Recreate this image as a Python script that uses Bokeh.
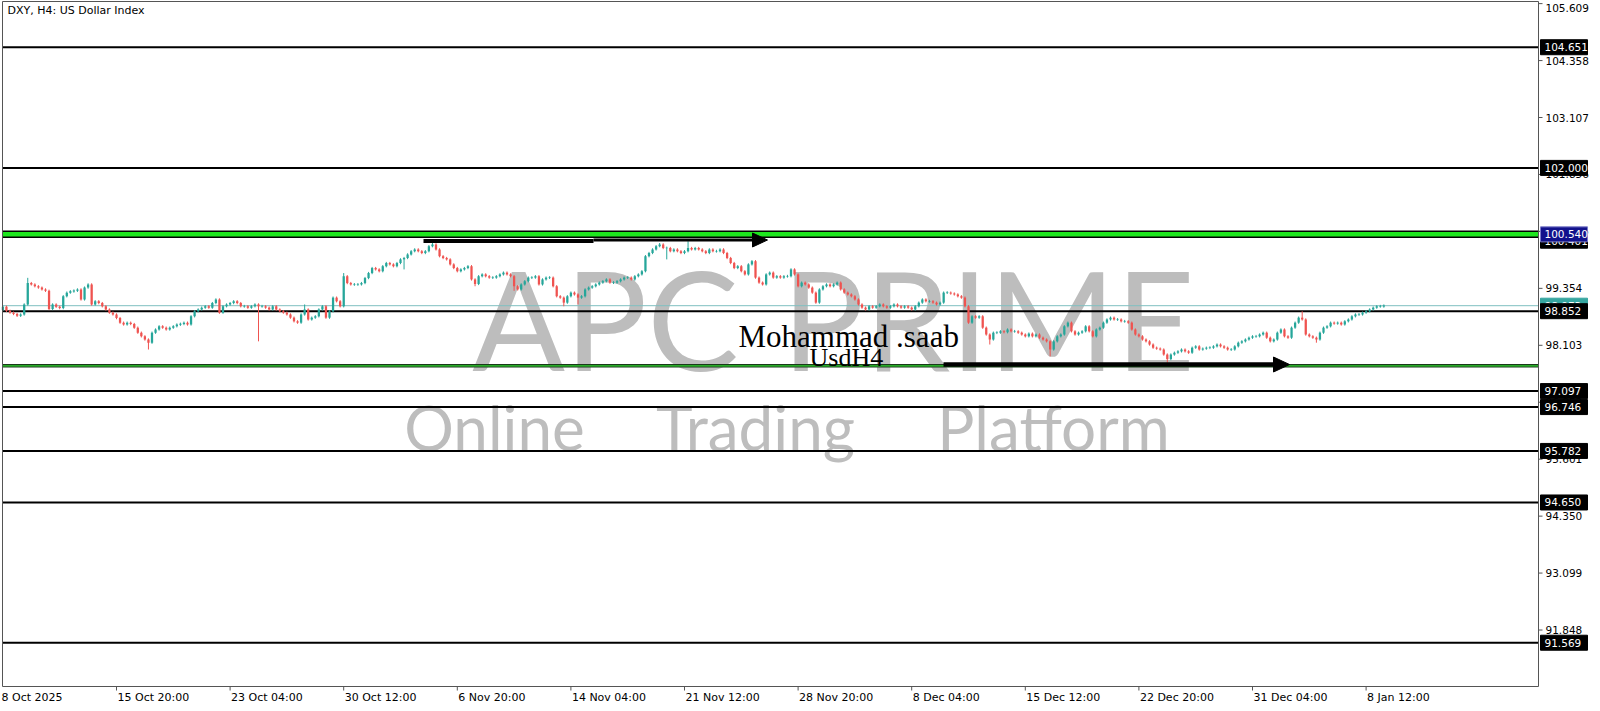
from bokeh.plotting import figure
from bokeh.models import Range1d
from bokeh.core.properties import value
from bokeh.embed import file_html
from bokeh.resources import INLINE

# ---------------- data ----------------
first_open = 98.88
closes = [
    98.95, 98.86, 98.82, 98.79, 98.75, 98.78, 99.00, 99.47, 99.44, 99.40,
    99.37, 99.33, 99.30, 98.90, 99.00, 98.95, 98.92, 99.18, 99.26, 99.29,
    99.30, 99.33, 99.11, 99.37, 99.44, 99.00, 99.07, 99.03, 98.96, 98.89,
    98.82, 98.78, 98.70, 98.60, 98.56, 98.60, 98.57, 98.49, 98.38, 98.30,
    98.23, 98.16, 98.38, 98.45, 98.52, 98.49, 98.45, 98.49, 98.52, 98.56,
    98.57, 98.60, 98.56, 98.74, 98.85, 98.89, 98.93, 98.96, 98.93, 99.03,
    99.11, 98.82, 98.96, 99.00, 99.03, 99.07, 99.03, 98.96, 98.96, 98.93,
    98.96, 99.00, 98.96, 98.96, 98.93, 98.89, 98.96, 98.89, 98.85, 98.82,
    98.78, 98.71, 98.63, 98.60, 98.78, 98.89, 98.67, 98.71, 98.74, 98.89,
    98.96, 98.71, 98.85, 99.15, 99.07, 98.96, 99.62, 99.47, 99.44, 99.44,
    99.44, 99.47, 99.58, 99.69, 99.80, 99.77, 99.73, 99.84, 99.91, 99.88,
    99.84, 99.91, 99.99, 100.02, 100.10, 100.17, 100.21, 100.17, 100.13, 100.17,
    100.28, 100.32, 100.21, 100.06, 100.02, 99.99, 99.88, 99.80, 99.73, 99.77,
    99.80, 99.84, 99.55, 99.45, 99.62, 99.66, 99.62, 99.59, 99.59, 99.62,
    99.66, 99.70, 99.66, 99.62, 99.40, 99.33, 99.44, 99.51, 99.59, 99.59,
    99.62, 99.44, 99.55, 99.59, 99.59, 99.40, 99.18, 99.15, 99.04, 99.18,
    99.26, 99.22, 99.15, 99.18, 99.33, 99.37, 99.40, 99.44, 99.48, 99.51,
    99.55, 99.48, 99.48, 99.51, 99.55, 99.59, 99.59, 99.55, 99.62, 99.66,
    99.73, 100.06, 100.13, 100.21, 100.28, 100.32, 100.24, 100.24, 100.17, 100.21,
    100.17, 100.13, 100.17, 100.24, 100.21, 100.24, 100.21, 100.17, 100.13, 100.21,
    100.17, 100.17, 100.21, 100.13, 100.02, 99.91, 99.80, 99.84, 99.73, 99.66,
    99.88, 99.95, 99.59, 99.48, 99.44, 99.66, 99.70, 99.59, 99.62, 99.59,
    99.62, 99.62, 99.77, 99.66, 99.40, 99.48, 99.44, 99.37, 99.26, 99.04,
    99.33, 99.40, 99.44, 99.40, 99.44, 99.48, 99.33, 99.26, 99.22, 99.18,
    99.11, 99.00, 98.93, 98.89, 98.96, 98.93, 98.96, 99.00, 98.96, 98.93,
    98.96, 99.00, 98.96, 98.93, 98.96, 98.93, 98.89, 98.96, 99.04, 99.11,
    99.07, 99.07, 99.04, 99.00, 99.04, 99.26, 99.26, 99.24, 99.22, 99.18,
    99.15, 98.96, 98.60, 98.74, 98.71, 98.74, 98.49, 98.34, 98.23, 98.38,
    98.38, 98.41, 98.39, 98.45, 98.41, 98.41, 98.38, 98.34, 98.30, 98.36,
    98.30, 98.34, 98.27, 98.23, 98.19, 98.01, 98.19, 98.30, 98.34, 98.52,
    98.60, 98.41, 98.34, 98.38, 98.41, 98.52, 98.41, 98.30, 98.45, 98.49,
    98.60, 98.67, 98.71, 98.67, 98.67, 98.63, 98.63, 98.60, 98.45, 98.34,
    98.30, 98.23, 98.19, 98.12, 98.05, 98.03, 98.01, 97.90, 97.80, 97.90,
    97.94, 97.97, 98.01, 97.97, 97.94, 98.05, 98.08, 98.01, 98.03, 98.05,
    98.05, 98.08, 98.12, 98.08, 98.05, 98.01, 98.01, 98.08, 98.16, 98.19,
    98.23, 98.27, 98.30, 98.30, 98.34, 98.38, 98.27, 98.19, 98.23, 98.38,
    98.45, 98.30, 98.27, 98.49, 98.60, 98.71, 98.67, 98.34, 98.30, 98.27,
    98.23, 98.38, 98.49, 98.52, 98.60, 98.58, 98.60, 98.56, 98.63, 98.67,
    98.74, 98.78, 98.78, 98.82, 98.85, 98.89, 98.93, 98.96, 98.96, 98.97,
]
spike_high = {7: 99.585, 85: 99.00, 96: 99.69, 121: 100.35, 185: 100.35, 193: 100.39, 366: 98.85}
spike_low = {41: 98.01, 72: 98.19, 113: 99.77, 133: 99.40, 144: 99.30, 158: 98.96,
             162: 99.00, 187: 99.99, 278: 98.12, 295: 97.86, 328: 97.72, 370: 98.16}
wick = 0.025

black_levels = [104.651, 102.000, 98.852, 97.097, 96.746, 95.782, 94.650, 91.569]
resistance = 100.540
support = 97.653
current_price = 98.973
arrow1_price = 100.401
price_ticks = [105.609, 104.358, 103.107, 101.856, 100.605, 99.354, 98.103,
               96.852, 95.601, 94.350, 93.099, 91.848]
time_tick_bars = [32, 64, 96, 128, 160, 192, 224, 256, 288, 320, 352, 384]
time_tick_labels = ["15 Oct 20:00", "23 Oct 04:00", "30 Oct 12:00", "6 Nov 20:00",
                    "14 Nov 04:00", "21 Nov 12:00", "28 Nov 20:00", "8 Dec 04:00",
                    "15 Dec 12:00", "22 Dec 20:00", "31 Dec 04:00", "8 Jan 12:00"]
first_date_label = "8 Oct 2025"
title_text = "DXY, H4:  US Dollar Index"

# ---------------- layout helpers (reference pixel -> data units) ----------------
PX_BAR0, PX_PER_BAR = 2.4, 3.55
PY_REF, PRICE_REF, PX_PER_PRICE = 311.7, 98.852, 45.52


def X(px):
    return (px - PX_BAR0) / PX_PER_BAR


def Y(py):
    return PRICE_REF - (py - PY_REF) / PX_PER_PRICE


def DX(px):
    return px / PX_PER_BAR


def DY(py):
    return py / PX_PER_PRICE


W, H = 1600, 709
p = figure(width=W, height=H, x_range=Range1d(X(0), X(1600)), y_range=Range1d(Y(710), Y(1)),
           output_backend="svg", toolbar_location=None, title=None,
           x_axis_type=None, y_axis_type=None,
           min_border_left=0, min_border_right=0, min_border_top=0, min_border_bottom=0)
p.outline_line_color = None
p.background_fill_color = "white"
p.border_fill_color = "white"

SANS = value("DejaVu Sans")
WM = "#bdbdbd"

# ---------------- watermark ----------------
p.text(x=[X(605)], y=[Y(318)], text=["APC"], text_font=value("Lato"), text_font_size="137px",
       text_color=WM, text_align="center", text_baseline="middle")
p.text(x=[X(988)], y=[Y(318)], text=["PRIME"], text_font=value("Lato"), text_font_size="137px",
       text_color=WM, text_align="center", text_baseline="middle")
p.text(x=[X(494), X(755), X(1053)], y=[Y(427)] * 3, text=["Online", "Trading", "Platform"],
       text_font=value("Lato"), text_font_size="62px", text_color=WM,
       text_align="center", text_baseline="middle")

# ---------------- horizontal levels ----------------
x_left, x_right = X(2), X(1538)
n_lv = len(black_levels)
p.segment(x0=[x_left] * n_lv, x1=[x_right] * n_lv, y0=black_levels, y1=black_levels,
          line_color="black", line_width=2)
p.segment(x0=[x_left], x1=[x_right], y0=[resistance], y1=[resistance], line_color="black", line_width=7.5)
p.segment(x0=[x_left], x1=[x_right], y0=[resistance], y1=[resistance], line_color="#1ee61e", line_width=4.5)
p.segment(x0=[x_left], x1=[x_right], y0=[support], y1=[support], line_color="#1a3a1a", line_width=3.5)
p.segment(x0=[x_left], x1=[x_right], y0=[support], y1=[support], line_color="#2ed12e", line_width=1.3)
p.segment(x0=[x_left], x1=[x_right], y0=[current_price], y1=[current_price], line_color="#7fbfc0", line_width=1)

# ---------------- candles ----------------
opens = [first_open] + closes[:-1]
idx = list(range(len(closes)))
tops, bots, highs, lows, cols = [], [], [], [], []
for i, (o, c) in enumerate(zip(opens, closes)):
    t, b = max(o, c), min(o, c)
    if t - b < 0.012:
        t += 0.006
        b -= 0.006
    tops.append(t)
    bots.append(b)
    highs.append(max(spike_high.get(i, t + wick), t))
    lows.append(min(spike_low.get(i, b - wick), b))
    cols.append("#26a69a" if c >= o else "#ef5350")
p.segment(x0=idx, x1=idx, y0=lows, y1=highs, line_color=cols, line_width=1)
p.vbar(x=idx, width=0.64, top=tops, bottom=bots, fill_color=cols, line_color=None)

# ---------------- arrows ----------------
p.segment(x0=[X(423)], x1=[X(593)], y0=[Y(241.5)], y1=[Y(241.5)], line_color="black", line_width=4)
p.segment(x0=[X(593)], x1=[X(755)], y0=[Y(240.5)], y1=[Y(240.5)], line_color="black", line_width=3)
p.patch(x=[X(752), X(767), X(752)], y=[Y(233.5), Y(240.5), Y(247.5)], color="black")
p.segment(x0=[X(943)], x1=[X(1276)], y0=[Y(365)], y1=[Y(365)], line_color="black", line_width=4.5)
p.patch(x=[X(1273), X(1289), X(1273)], y=[Y(357.5), Y(365), Y(372.5)], color="black")

# ---------------- author texts ----------------
p.text(x=[X(738)], y=[Y(337)], text=["Mohammad .saab"], text_font=value("Liberation Serif"),
       text_font_size="31px", text_color="black", text_align="left", text_baseline="middle")
p.text(x=[X(809)], y=[Y(357.5)], text=["UsdH4"], text_font=value("Liberation Serif"),
       text_font_size="26px", text_color="black", text_align="left", text_baseline="middle")

# ---------------- chart border ----------------
p.line(x=[X(2), X(1538), X(1538), X(2), X(2)], y=[Y(2), Y(2), Y(687), Y(687), Y(2)],
       line_color="#555555", line_width=1)

# ---------------- price axis ----------------
nt = len(price_ticks)
label_y = [min(t, Y(8.5)) for t in price_ticks]
p.segment(x0=[X(1538)] * nt, x1=[X(1542)] * nt, y0=price_ticks, y1=price_ticks, line_color="#555555")
p.text(x=[X(1545)] * nt, y=label_y, text=[f"{t:.3f}" for t in price_ticks], text_font=SANS,
       text_font_size="10.5px", text_color="black", text_align="left", text_baseline="middle")

box_prices = [current_price, arrow1_price, resistance] + black_levels
box_fill = ["#37a6a0", "black", "#12128c"] + ["black"] * len(black_levels)
box_line = ["#37a6a0", "black", "#7a7ac8"] + ["black"] * len(black_levels)
for bp, bf, bl in zip(box_prices, box_fill, box_line):
    p.rect(x=[X(1563.5)], y=[bp], width=DX(47), height=DY(15), fill_color=bf,
           line_color=bl, line_width=1)
    p.text(x=[X(1544)], y=[bp], text=[f"{bp:.3f}"], text_font=SANS,
           text_font_size="10.5px", text_color="white", text_align="left", text_baseline="middle")

# ---------------- time axis ----------------
ntt = len(time_tick_bars)
p.segment(x0=time_tick_bars, x1=time_tick_bars, y0=[Y(687)] * ntt, y1=[Y(691)] * ntt, line_color="#555555")
p.text(x=[b + DX(1) for b in time_tick_bars], y=[Y(698)] * ntt, text=time_tick_labels, text_font=SANS,
       text_font_size="11px", text_color="black", text_align="left", text_baseline="middle")
p.text(x=[X(1)], y=[Y(698)], text=[first_date_label], text_font=SANS,
       text_font_size="11px", text_color="black", text_align="left", text_baseline="middle")

# ---------------- title ----------------
p.text(x=[X(7)], y=[Y(11)], text=[title_text], text_font=SANS, text_font_size="11px",
       text_color="black", text_align="left", text_baseline="middle")

open("out.html", "w").write(file_html(p, INLINE))
